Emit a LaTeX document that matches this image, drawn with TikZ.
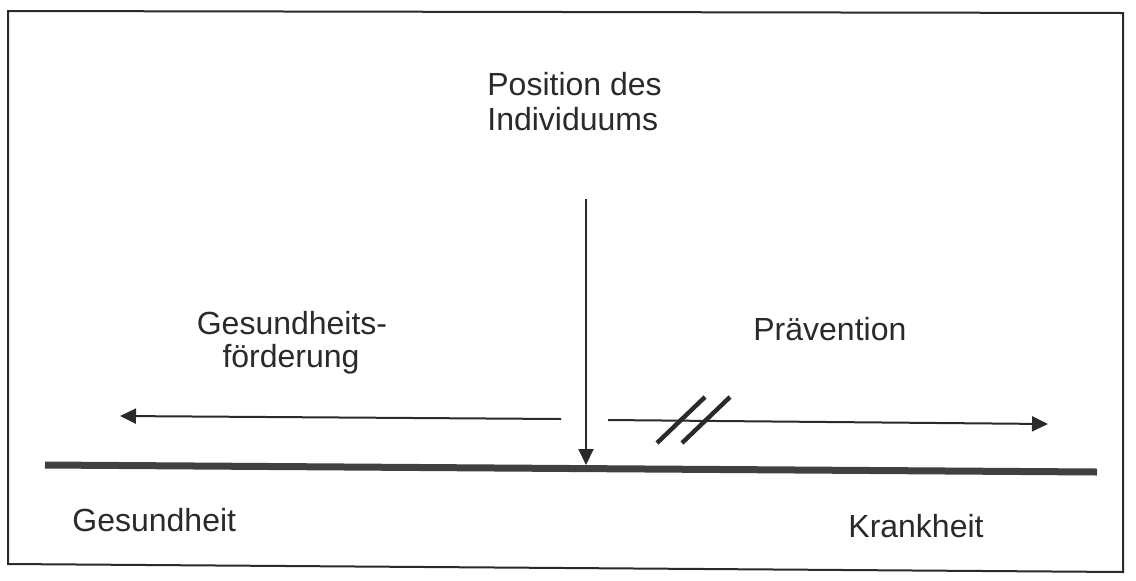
\documentclass[tikz,border=0pt]{standalone}
\usepackage{fontspec}
\setmainfont{Liberation Sans}
\usetikzlibrary{arrows.meta}
\definecolor{ink}{HTML}{2A2A2A}
\definecolor{bar}{HTML}{404040}
\tikzset{
  lbl/.style={anchor=base west,inner sep=0pt,text=ink,font=\fontsize{16}{19}\selectfont},
  arr/.style={-{Triangle[length=8pt,width=7.5pt]},line width=1pt,draw=ink}
}
\begin{document}
\begin{tikzpicture}[x=0.5pt,y=-0.5pt]
  \useasboundingbox (0,0) rectangle (1136,580);
  \fill[white] (0,0) rectangle (1136,580);
  % frame
  \draw[line width=1pt,ink] (8,11) -- (1123,13) -- (1123,572) -- (8,564) -- cycle;
  % labels
  \node[lbl] (pos1) at (487,95) {Position des};
  \node[lbl] (pos2) at (487,130) {Individuums};
  \node[lbl,anchor=base] (gf1) at (292,334) {Gesundheits-};
  \node[lbl,anchor=base] (gf2) at (291,367) {förderung};
  \node[lbl] (prev) at (753,340) {Prävention};
  \node[lbl] (ges) at (72,531) {Gesundheit};
  \node[lbl] (krank) at (848,537) {Krankheit};
  % axis
  \coordinate (L) at (45,465);
  \coordinate (R) at (1097,472);
  \draw[line width=3.5pt,bar] (L) -- (R);
  % position of the individual
  \coordinate (ptop) at (586,199);
  \coordinate (pbot) at (586,465);
  \draw[arr] (ptop) -- (pbot);
  % promotion and prevention
  \coordinate (gA) at (561,419);
  \coordinate (gB) at (120,416);
  \coordinate (pA) at (608,420);
  \coordinate (pB) at (1048,424);
  \draw[arr] (gA) -- (gB);
  \draw[arr] (pA) -- (pB);
  % break
  \draw[line width=2.2pt,ink] (657,443) -- (705,397);
  \draw[line width=2.2pt,ink] (682,443) -- (730,397);
\end{tikzpicture}
\end{document}
